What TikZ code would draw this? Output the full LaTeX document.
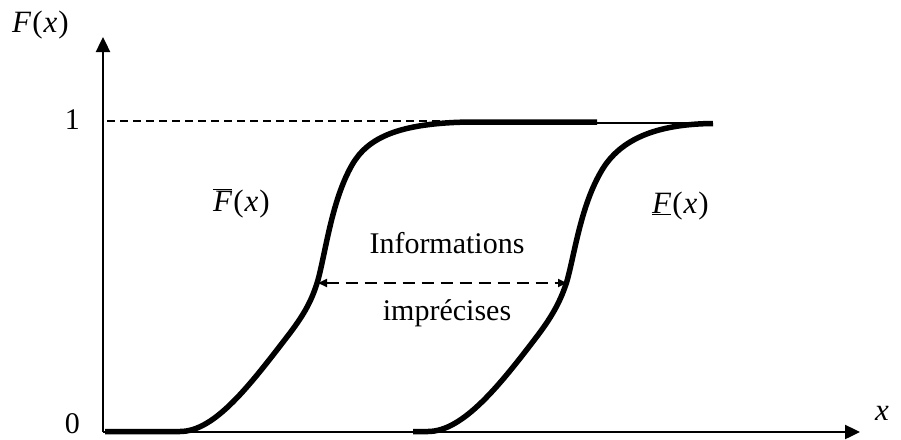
\documentclass[tikz,border=0pt]{standalone}
\usepackage{fontspec}
\setmainfont{Liberation Serif}
\usetikzlibrary{arrows.meta}
\tikzset{
  axis/.style={line width=2.4pt, -{Triangle[length=15pt,width=14pt]}},
  cdf/.style={line width=5.5pt, line join=round},
  guide/.style={line width=1.4pt, dash pattern=on 8pt off 5pt},
  gap/.style={line width=1.8pt, dash pattern=on 12pt off 7pt,
    {Triangle[length=9pt,width=8pt]}-{Triangle[length=9pt,width=8pt]}},
  lbl/.style={inner sep=0pt, font=\fontsize{30}{35}\selectfont},
  mlbl/.style={inner sep=0pt, font=\fontsize{31}{36}\selectfont}
}
\newcommand{\fx}[1]{#1\kern1pt(\kern1pt\textit{x}\kern1pt)}
\begin{document}
\begin{tikzpicture}[x=1pt,y=-1pt]
\useasboundingbox (0,0) rectangle (901,439);

% axes
\coordinate (o) at (103,432);
\coordinate (ytop) at (103,37);
\coordinate (xend) at (860,432);
\draw[axis] (o) -- (ytop);
\draw[axis] (o) -- (xend);

% level 1 guide
\coordinate (g1) at (107,121);
\coordinate (g2) at (476,121);
\draw[guide] (g1) -- (g2);

% thin line joining both plateaus
\coordinate (p1) at (595,123);
\coordinate (p2) at (713,123);
\draw[line width=2.6pt] (p1) -- (p2);

% upper bound
\draw[cdf] (105,431.5) -- (180,431.5)
  .. controls (215,431.5) and (250,385) .. (290,333)
  .. controls (305,313) and (312,300) .. (318,280)
  .. controls (326,250) and (332,200) .. (352,165)
  .. controls (368,137) and (400,123) .. (470,122)
  -- (597,122);

% lower bound
\draw[cdf] (413,431.5) -- (428,431.5)
  .. controls (463,431.5) and (500,385) .. (538,335)
  .. controls (553,315) and (561,300) .. (567,281)
  .. controls (575,252) and (581,205) .. (602,170)
  .. controls (620,140) and (655,124) .. (713,123.5);

% gap between the bounds
\coordinate (ga) at (318,283);
\coordinate (gb) at (567,283);
\draw[gap] (ga) -- (gb);

% labels
\node[mlbl, anchor=base west] (fy) at (12,32) {\fx{\textit{F}}};
\node[lbl, anchor=base east] (one) at (80,129) {1};
\node[lbl, anchor=base east] (zero) at (80,433) {0};
\node[mlbl, anchor=base] (xl) at (882,420) {\textit{x}};
\node[mlbl, anchor=base west] (fup) at (213,211) {\fx{$\overline{\mbox{\textit{F}}}$}};
\node[mlbl, anchor=base west] (flo) at (652,213) {\fx{$\underline{\mbox{\textit{F}}}$}};
\node[lbl, anchor=base] (t1) at (447,253) {Informations};
\node[lbl, anchor=base] (t2) at (447,320) {imprécises};
\end{tikzpicture}
\end{document}
